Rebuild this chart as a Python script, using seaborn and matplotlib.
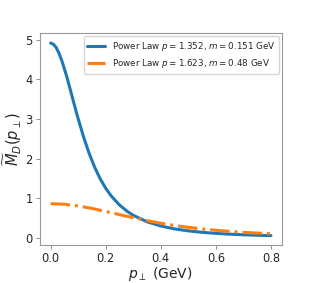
import matplotlib
matplotlib.use("Agg")
from matplotlib import pyplot as plt
import seaborn as sns

# values
p_blue = [0.00, 0.01, 0.02, 0.03, 0.04, 0.05, 0.06, 0.07, 0.08, 0.09, 0.10, 0.12, 0.14,
          0.16, 0.18, 0.20, 0.22, 0.25, 0.28, 0.30, 0.35, 0.40, 0.45, 0.50, 0.55, 0.60,
          0.65, 0.70, 0.75, 0.80]
m_blue = [4.92, 4.89, 4.81, 4.67, 4.49, 4.27, 4.04, 3.78, 3.52, 3.26, 3.01, 2.54, 2.13,
          1.78, 1.49, 1.25, 1.055, 0.827, 0.656, 0.566, 0.402, 0.295, 0.222, 0.172, 0.135,
          0.109, 0.089, 0.073, 0.061, 0.052]

p_orange = [0.00, 0.05, 0.10, 0.15, 0.20, 0.25, 0.30, 0.35, 0.40, 0.45, 0.50,
            0.55, 0.60, 0.65, 0.70, 0.75, 0.80]
m_orange = [0.86, 0.845, 0.803, 0.739, 0.663, 0.583, 0.504, 0.430, 0.365, 0.309, 0.261,
            0.220, 0.187, 0.159, 0.135, 0.116, 0.100]

label_blue = 'Power Law $p = 1.352$, $m = 0.151$ GeV'
label_orange = 'Power Law $p = 1.623$, $m = 0.48$ GeV'

sns.set_style('ticks')
plt.rcParams['font.family'] = ['DejaVu Sans']
plt.rcParams['mathtext.fontset'] = 'dejavusans'

fig = plt.figure(figsize=(3.14, 2.83), dpi=100)
ax = fig.add_axes([0.126, 0.135, 0.772, 0.748])

sns.lineplot(x=p_blue, y=m_blue, ax=ax, color='#1f77b4', lw=2.2,
             label=label_blue, sort=False, estimator=None)
sns.lineplot(x=p_orange, y=m_orange, ax=ax, color='#ff7f0e', lw=2.2,
             linestyle='-.', label=label_orange, sort=False, estimator=None)

ax.set_xlim(-0.04, 0.84)
ax.set_ylim(-0.18, 5.17)
ax.set_xticks([0.0, 0.2, 0.4, 0.6, 0.8])
ax.set_yticks([0, 1, 2, 3, 4, 5])
ax.tick_params(labelsize=8.3, color='0.5', length=3, width=0.6, pad=2)
for s in ax.spines.values():
    s.set_visible(True)
    s.set_color('0.6')
    s.set_linewidth(0.8)

ax.set_xlabel(r'$p_\perp$ (GeV)', fontsize=10, labelpad=0)
ax.set_ylabel(r'$\widetilde{M}_D(p_\perp)$', fontsize=10.5, labelpad=1)

ax.legend(loc='upper right', fontsize=6.3, frameon=True, handlelength=2.0,
          borderaxespad=0.35, framealpha=0.8)

fig.savefig('out.png', dpi=100)
